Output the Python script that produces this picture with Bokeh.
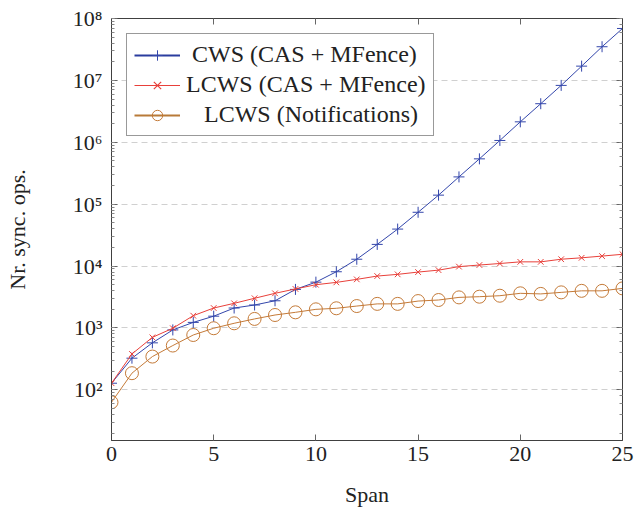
from bokeh.plotting import figure
from bokeh.models import Range1d, LogAxis, LinearAxis, CustomJSTickFormatter, Legend, LegendItem, ColumnDataSource, FixedTicker
from bokeh.embed import file_html
from bokeh.resources import INLINE

span = list(range(26))
cws = [128, 325, 575, 930, 1230, 1550, 2100, 2350, 2750, 4200, 5500, 8100, 12900, 22400,
       39600, 74000, 140000, 276000, 540000, 1070000, 2140000, 4200000, 8300000, 17000000,
       35000000, 69000000]
lcws_cas = [128, 380, 705, 990, 1580, 2100, 2500, 3020, 3630, 4270, 5000, 5450, 6100, 6900,
            7350, 8000, 8600, 9800, 10400, 11000, 11700, 11700, 12900, 13600, 14500, 15500]
lcws_notif = [63, 186, 345, 520, 770, 990, 1190, 1400, 1620, 1790, 2000, 2080, 2260, 2450,
              2450, 2720, 2830, 3120, 3200, 3320, 3630, 3550, 3760, 3980, 3980, 4360]
x_ticks = [0, 5, 10, 15, 20, 25]
y_ticks = [1e2, 1e3, 1e4, 1e5, 1e6, 1e7, 1e8]
labels = ["\u00a0CWS (CAS + MFence)", "LCWS (CAS + MFence)", "\u00a0\u00a0\u00a0LCWS (Notifications)"]

FONT = "Liberation Serif"
BLUE = "#3346ab"
RED = "#e8403a"
ORANGE = "#c47a38"
AXC = "#404040"

p = figure(width=634, height=509, y_axis_type="log", output_backend="svg",
           toolbar_location=None, x_range=Range1d(0, 25), y_range=Range1d(15.2, 1e8),
           min_border_left=111, min_border_right=12, min_border_top=18, min_border_bottom=68)

src = ColumnDataSource(dict(x=span, a=cws, b=lcws_cas, c=lcws_notif))

p.line("x", "a", source=src, color=BLUE, line_width=1)
p.scatter("x", "a", source=src, marker="cross", size=11, line_color=BLUE, line_width=1)
p.line("x", "b", source=src, color=RED, line_width=1)
p.scatter("x", "b", source=src, marker="x", size=8, line_color=RED, line_width=1)
p.line("x", "c", source=src, color=ORANGE, line_width=1)
p.scatter("x", "c", source=src, marker="circle", size=13, line_color=ORANGE,
          fill_color=None, line_width=1)

# legend-only renderers (single point outside the visible range)
e = ColumnDataSource(dict(x=[-100], y=[1000]))
l1 = p.line("x", "y", source=e, line_color="#2a3c9e", line_width=2)
m1 = p.scatter("x", "y", source=e, marker="cross", size=11, line_color=BLUE, line_width=1)
l2 = p.line("x", "y", source=e, line_color=RED, line_width=1.2)
m2 = p.scatter("x", "y", source=e, marker="x", size=8, line_color=RED, line_width=1.2)
l3 = p.line("x", "y", source=e, line_color="#b87a38", line_width=2)
m3 = p.scatter("x", "y", source=e, marker="circle", size=13, line_color=ORANGE,
               fill_color=None, line_width=1)

legend = Legend(items=[LegendItem(label=labels[0], renderers=[l1, m1]),
                       LegendItem(label=labels[1], renderers=[l2, m2]),
                       LegendItem(label=labels[2], renderers=[l3, m3])],
                location="top_left")
legend.margin = 15
legend.padding = 7
legend.spacing = 3
legend.glyph_width = 46
legend.glyph_height = 26
legend.label_height = 26
legend.label_standoff = 6
legend.label_text_font = FONT
legend.label_text_font_size = "24px"
legend.label_text_color = "#222222"
legend.border_line_color = "#333333"
legend.border_line_width = 1
legend.background_fill_alpha = 1
p.add_layout(legend)

p.xgrid.visible = False
p.ygrid.ticker = FixedTicker(ticks=y_ticks)
p.ygrid.grid_line_color = "#d0d0d0"
p.ygrid.grid_line_dash = "6 4"
p.ygrid.grid_line_width = 1

fmt = CustomJSTickFormatter(code="""
const sup = {"0":"\u2070","1":"\u00b9","2":"\u00b2","3":"\u00b3","4":"\u2074","5":"\u2075","6":"\u2076","7":"\u2077","8":"\u2078","9":"\u2079"};
const e = Math.round(Math.log10(tick));
return "10" + String(e).split("").map(c => sup[c]).join("");
""")
blank = CustomJSTickFormatter(code="return '';")

xa = p.xaxis[0]
xa.ticker = FixedTicker(ticks=x_ticks)
xa.axis_label = "Span"
ya = p.yaxis[0]
ya.formatter = fmt
ya.axis_label = "Nr. sync. ops."

for ax in (xa, ya):
    ax.axis_line_color = AXC
    ax.major_tick_in = 6
    ax.major_tick_out = 0
    ax.major_tick_line_color = "#666666"
    ax.minor_tick_in = 3
    ax.minor_tick_out = 0
    ax.minor_tick_line_color = "#888888"
    ax.major_label_text_font = FONT
    ax.major_label_text_font_size = "22px"
    ax.major_label_text_color = "#222222"
    ax.axis_label_text_font = FONT
    ax.axis_label_text_font_size = "22px"
    ax.axis_label_text_font_style = "normal"
    ax.axis_label_text_color = "#222222"

xa.major_label_standoff = 6
xa.axis_label_standoff = 18
ya.major_label_standoff = 9
ya.axis_label_standoff = 40

top = LinearAxis(ticker=FixedTicker(ticks=x_ticks), formatter=blank,
                 major_tick_in=6, major_tick_out=0, minor_tick_line_color=None,
                 axis_line_color=AXC, major_tick_line_color="#666666",
                 major_label_standoff=0)
p.add_layout(top, "above")
right = LogAxis(formatter=blank, major_tick_in=6, major_tick_out=0,
                minor_tick_in=3, minor_tick_out=0, axis_line_color=AXC,
                major_tick_line_color="#666666", minor_tick_line_color="#888888",
                major_label_standoff=0)
p.add_layout(right, "right")
p.outline_line_color = AXC

open("out.html", "w").write(file_html(p, INLINE))
